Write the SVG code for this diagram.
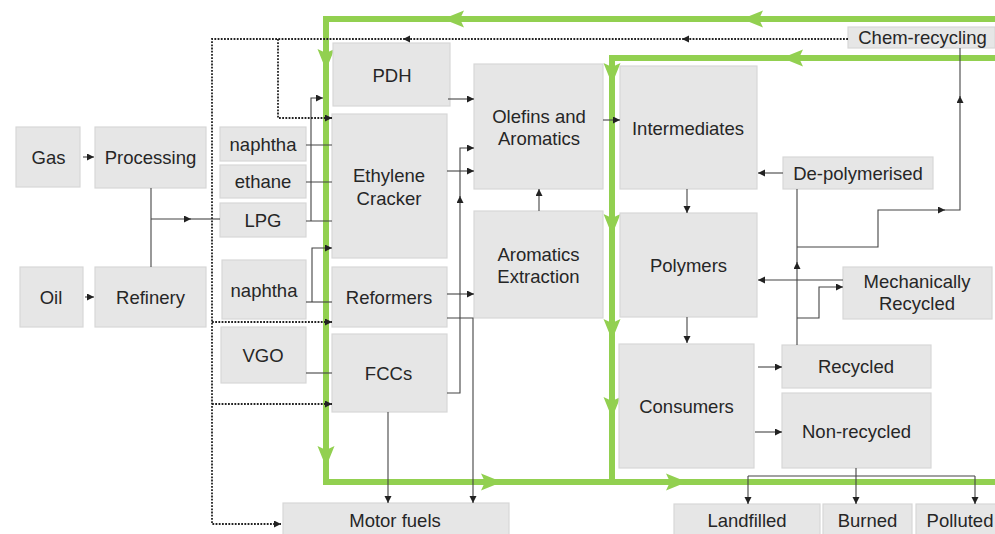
<svg xmlns="http://www.w3.org/2000/svg" xmlns:xlink="http://www.w3.org/1999/xlink" width="995" height="534" viewBox="0 0 995 534">
<style>
.box{fill:#e6e6e6;stroke:#d7d7d7;stroke-width:1.2}
.t{font-family:"Liberation Sans",Arial,sans-serif;font-size:18.5px;fill:#262626;text-anchor:middle}
.c{fill:none;stroke:#444;stroke-width:1.1}
.d{fill:none;stroke:#222;stroke-width:1.8;stroke-dasharray:1.8,1.4}
.g{fill:none;stroke:#92d050;stroke-width:6}
.ga{fill:#92d050}
</style>
<defs>
<marker id="a" markerUnits="userSpaceOnUse" markerWidth="8" markerHeight="8" refX="7" refY="3.5" orient="auto"><path d="M0,0 L7,3.5 L0,7 z" fill="#222"/></marker>
<path id="gh" d="M0,0 L-21,-8.5 L-17,0 L-21,8.5 Z"/>
</defs>
<g id="green">
<path class="g" d="M995,19 H326 V482 H995"/>
<path class="g" d="M995,58 H612 V482"/>
<use href="#gh" class="ga" transform="translate(443,19) rotate(180)"/>
<use href="#gh" class="ga" transform="translate(742,19) rotate(180)"/>
<use href="#gh" class="ga" transform="translate(782,58) rotate(180)"/>
<use href="#gh" class="ga" transform="translate(326,70) rotate(90)"/>
<use href="#gh" class="ga" transform="translate(326,467) rotate(90)"/>
<use href="#gh" class="ga" transform="translate(612,84) rotate(90)"/>
<use href="#gh" class="ga" transform="translate(612,235) rotate(90)"/>
<use href="#gh" class="ga" transform="translate(612,340) rotate(90)"/>
<use href="#gh" class="ga" transform="translate(612,418) rotate(90)"/>
<use href="#gh" class="ga" transform="translate(502,482)"/>
<use href="#gh" class="ga" transform="translate(687,482)"/>
</g>
<g id="n-gas"><rect class="box" x="16" y="127" width="64" height="60"/><text class="t" x="48.5" y="164">Gas</text></g>
<g id="n-processing"><rect class="box" x="95" y="127" width="111" height="61"/><text class="t" x="150.5" y="164">Processing</text></g>
<g id="n-oil"><rect class="box" x="20" y="267" width="63" height="60"/><text class="t" x="51" y="304">Oil</text></g>
<g id="n-refinery"><rect class="box" x="95" y="267" width="111" height="60"/><text class="t" x="150.5" y="304">Refinery</text></g>
<g id="n-naphtha1"><rect class="box" x="220" y="127" width="86" height="34"/><text class="t" x="263" y="151">naphtha</text></g>
<g id="n-ethane"><rect class="box" x="220" y="165" width="86" height="33"/><text class="t" x="263" y="188">ethane</text></g>
<g id="n-lpg"><rect class="box" x="220" y="203" width="86" height="34"/><text class="t" x="263" y="227">LPG</text></g>
<g id="n-naphtha2"><rect class="box" x="222" y="260" width="84" height="59"/><text class="t" x="264" y="297">naphtha</text></g>
<g id="n-vgo"><rect class="box" x="221" y="327" width="85" height="56"/><text class="t" x="263" y="362">VGO</text></g>
<g id="n-pdh"><rect class="box" x="333" y="43" width="117" height="63"/><text class="t" x="392" y="82">PDH</text></g>
<g id="n-cracker"><rect class="box" x="332" y="114" width="115" height="144"/><text class="t" x="389" y="182">Ethylene</text><text class="t" x="389" y="205">Cracker</text></g>
<g id="n-reformers"><rect class="box" x="332" y="267" width="115" height="60"/><text class="t" x="389" y="304">Reformers</text></g>
<g id="n-fccs"><rect class="box" x="332" y="334" width="115" height="78"/><text class="t" x="388.5" y="380">FCCs</text></g>
<g id="n-olefins"><rect class="box" x="474" y="64" width="129" height="125"/><text class="t" x="539" y="123">Olefins and</text><text class="t" x="539" y="145">Aromatics</text></g>
<g id="n-aromext"><rect class="box" x="474" y="211" width="129" height="107"/><text class="t" x="538.5" y="261">Aromatics</text><text class="t" x="538.5" y="283">Extraction</text></g>
<g id="n-intermediates"><rect class="box" x="620" y="66" width="137" height="123"/><text class="t" x="688" y="135">Intermediates</text></g>
<g id="n-polymers"><rect class="box" x="620" y="213" width="137" height="104"/><text class="t" x="688.5" y="272">Polymers</text></g>
<g id="n-consumers"><rect class="box" x="619" y="344" width="135" height="124"/><text class="t" x="686.5" y="413">Consumers</text></g>
<g id="n-depoly"><rect class="box" x="783" y="157" width="150" height="32"/><text class="t" x="858" y="180">De-polymerised</text></g>
<g id="n-mech"><rect class="box" x="843" y="267" width="149" height="52"/><text class="t" x="917" y="288">Mechanically</text><text class="t" x="917" y="310">Recycled</text></g>
<g id="n-recycled"><rect class="box" x="782" y="345" width="149" height="43"/><text class="t" x="856" y="373">Recycled</text></g>
<g id="n-nonrecycled"><rect class="box" x="782" y="393" width="149" height="75"/><text class="t" x="856.5" y="438">Non-recycled</text></g>
<g id="n-chem"><rect class="box" x="848" y="27" width="147" height="21"/><text class="t" x="922.5" y="44">Chem-recycling</text></g>
<g id="n-motor"><rect class="box" x="283" y="503" width="226" height="40"/><text class="t" x="395" y="527">Motor fuels</text></g>
<g id="n-landfilled"><rect class="box" x="674" y="504" width="146" height="40"/><text class="t" x="747" y="527">Landfilled</text></g>
<g id="n-burned"><rect class="box" x="823" y="504" width="89" height="40"/><text class="t" x="867.5" y="527">Burned</text></g>
<g id="n-polluted"><rect class="box" x="916" y="504" width="90" height="40"/><text class="t" x="960" y="527">Polluted</text></g>
<g id="connectors">
<path class="c" d="M83,157 H94" marker-end="url(#a)"/>
<path class="c" d="M85,297 H94" marker-end="url(#a)"/>
<path class="c" d="M151,188 V267"/>
<path class="c" d="M151,219 H191" marker-end="url(#a)"/>
<path class="c" d="M190,219 H220"/>
<path class="c" d="M306,145 H332 M306,182 H332 M306,221 H332"/>
<path class="c" d="M311,221 V98 H323" marker-end="url(#a)"/>
<path class="c" d="M306,302 H332"/>
<path class="c" d="M312,302 V248 H332" marker-end="url(#a)"/>
<path class="c" d="M306,373 H332"/>
<path class="c" d="M448,99 H474" marker-end="url(#a)"/>
<path class="c" d="M447,171 H474" marker-end="url(#a)"/>
<path class="c" d="M447,393 H460 V196" marker-end="url(#a)"/>
<path class="c" d="M460,198 V148 H474" marker-end="url(#a)"/>
<path class="c" d="M447,294 H474" marker-end="url(#a)"/>
<path class="c" d="M447,318 H473 V503" marker-end="url(#a)"/>
<path class="c" d="M388,412 V503" marker-end="url(#a)"/>
<path class="c" d="M539,211 V189" marker-end="url(#a)"/>
<path class="c" d="M603,120 H620" marker-end="url(#a)"/>
<path class="c" d="M687,189 V213" marker-end="url(#a)"/>
<path class="c" d="M687,317 V343" marker-end="url(#a)"/>
<path class="c" d="M758,367 H782" marker-end="url(#a)"/>
<path class="c" d="M755,432 H782" marker-end="url(#a)"/>
<path class="c" d="M783,173 H758" marker-end="url(#a)"/>
<path class="c" d="M843,280 H758" marker-end="url(#a)"/>
<path class="c" d="M797,345 V262" marker-end="url(#a)"/>
<path class="c" d="M797,264 V189"/>
<path class="c" d="M797,247 H878 V210 H945" marker-end="url(#a)"/>
<path class="c" d="M943,210 H960 V96" marker-end="url(#a)"/>
<path class="c" d="M960,98 V48"/>
<path class="c" d="M797,318 H819 V287 H843" marker-end="url(#a)"/>
<path class="c" d="M856,468 V476 M748,476 H975"/>
<path class="c" d="M748,476 V504" marker-end="url(#a)"/>
<path class="c" d="M856,476 V504" marker-end="url(#a)"/>
<path class="c" d="M975,476 V504" marker-end="url(#a)"/>
<path class="d" d="M848,39 H682" marker-end="url(#a)"/>
<path class="d" d="M684,39 H403" marker-end="url(#a)"/>
<path class="d" d="M405,39 H212 V524 H281" marker-end="url(#a)"/>
<path class="d" d="M278,39 V118 H332" marker-end="url(#a)"/>
<path class="d" d="M212,322 H332" marker-end="url(#a)"/>
<path class="d" d="M212,404 H332" marker-end="url(#a)"/>
</g>
</svg>
